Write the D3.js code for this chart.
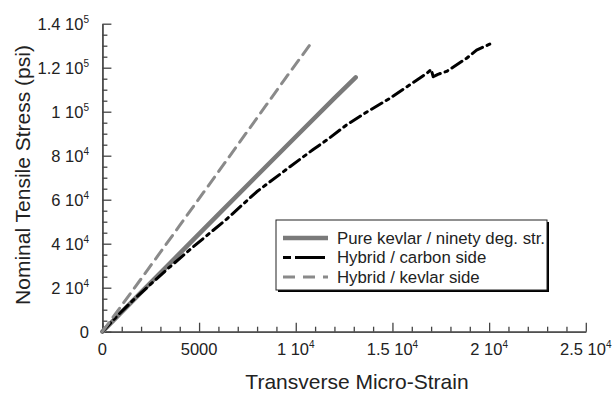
<!DOCTYPE html>
<html><head><meta charset="utf-8">
<script src="https://cdn.jsdelivr.net/npm/d3@7"></script>
<style>body{margin:0;background:#fff}svg{display:block}</style>
</head><body>
<script>
// Data
const pureKevlarX = [0, 2000, 4000, 6000, 8000, 10000, 12000, 13100];
const pureKevlarY = [0, 17900, 35600, 53300, 71000, 88600, 106200, 115600];
const carbonSideX = [0, 800, 1600, 3300, 4700, 6430, 7980, 9700, 10900, 11600, 12630, 13700, 14870, 16770, 17000, 17110, 17350, 17800, 18840, 19350, 20000, 20210];
const carbonSideY = [0, 7500, 14400, 28000, 38600, 51200, 63600, 75000, 82800, 87100, 94000, 100000, 106100, 117400, 119200, 115900, 117000, 118300, 124300, 128000, 130600, 131400];
const kevlarSideX = [0, 2000, 4000, 6000, 8000, 9500, 10850];
const kevlarSideY = [0, 24000, 48300, 72700, 97200, 115600, 131800];
const xTicks = [0, 5000, 10000, 15000, 20000, 25000];
const xTickLabels = [["0",""],["5000",""],["1 10","4"],["1.5 10","4"],["2 10","4"],["2.5 10","4"]];
const yTicks = [0, 20000, 40000, 60000, 80000, 100000, 120000, 140000];
const yTickLabels = [["0",""],["2 10","4"],["4 10","4"],["6 10","4"],["8 10","4"],["1 10","5"],["1.2 10","5"],["1.4 10","5"]];
const seriesNames = ["Pure kevlar / ninety deg. str.", "Hybrid / carbon side", "Hybrid / kevlar side"];

const W = 614, H = 397;
const svg = d3.select("body").append("svg").attr("width", W).attr("height", H)
  .style("font-family", "'Liberation Sans', Arial, sans-serif");

const x = d3.scaleLinear().domain([0, 25000]).range([102.4, 585.8]);
const y = d3.scaleLinear().domain([0, 140000]).range([331.7, 23.7]);
const axisColor = "#444";

// minor ticks
const xMinor = d3.range(0, 25001, 1000).filter(v => v % 5000 !== 0);
const yMinor = d3.range(0, 140001, 5000).filter(v => v % 20000 !== 0);

const gx = svg.append("g").attr("transform", `translate(0,${y(0)})`);
gx.call(d3.axisBottom(x).tickValues(xMinor).tickSize(-5).tickSizeOuter(0).tickFormat(""));
gx.append("g").call(d3.axisBottom(x).tickValues(xTicks).tickSize(-9).tickSizeOuter(0).tickFormat(""));
const gy = svg.append("g").attr("transform", `translate(${x(0)},0)`);
gy.call(d3.axisLeft(y).tickValues(yMinor).tickSize(-5).tickSizeOuter(0).tickFormat(""));
gy.append("g").call(d3.axisLeft(y).tickValues(yTicks).tickSize(-9).tickSizeOuter(0).tickFormat(""));
svg.selectAll(".domain, .tick line").attr("stroke", axisColor).attr("stroke-width", 1.3);

// tick labels
xTicks.forEach((v, i) => {
  const t = svg.append("text").attr("x", x(v)).attr("y", 355).attr("text-anchor", "middle")
    .attr("font-size", 16.5).attr("fill", "#222");
  t.append("tspan").text(xTickLabels[i][0]);
  if (xTickLabels[i][1]) t.append("tspan").attr("dy", -7).attr("font-size", 10).text(xTickLabels[i][1]);
});
yTicks.forEach((v, i) => {
  const t = svg.append("text").attr("x", 89).attr("y", y(v) + 6).attr("text-anchor", "end")
    .attr("font-size", 16.5).attr("fill", "#222");
  t.append("tspan").text(yTickLabels[i][0]);
  if (yTickLabels[i][1]) t.append("tspan").attr("dy", -7).attr("font-size", 10).text(yTickLabels[i][1]);
});

// axis titles
svg.append("text").attr("x", 357).attr("y", 389).attr("text-anchor", "middle")
  .attr("font-size", 21).attr("fill", "#222").text("Transverse Micro-Strain");
svg.append("text").attr("transform", `translate(30,175) rotate(-90)`).attr("text-anchor", "middle")
  .attr("font-size", 21).attr("fill", "#222").text("Nominal Tensile Stress (psi)");

// lines
const line = d3.line().x(d => x(d[0])).y(d => y(d[1]));
const styles = [
  {color: "#7a7a7a", width: 4.5, dash: null},
  {color: "#000", width: 3, dash: "12,5,3,5"},
  {color: "#8a8a8a", width: 3, dash: "11,7"}
];
const series = [
  d3.zip(pureKevlarX, pureKevlarY),
  d3.zip(carbonSideX, carbonSideY),
  d3.zip(kevlarSideX, kevlarSideY)
];
series.forEach((s, i) => {
  svg.append("path").datum(s).attr("d", line).attr("fill", "none")
    .attr("stroke", styles[i].color).attr("stroke-width", styles[i].width)
    .attr("stroke-dasharray", styles[i].dash).attr("stroke-linecap", "round")
    .attr("stroke-linejoin", "round");
});

// legend
const lg = svg.append("g");
lg.append("rect").attr("x", 278).attr("y", 222).attr("width", 271).attr("height", 70).attr("fill", "#000");
lg.append("rect").attr("x", 276).attr("y", 220).attr("width", 271).attr("height", 70)
  .attr("fill", "#fff").attr("stroke", "#222").attr("stroke-width", 1);
seriesNames.forEach((n, i) => {
  const yy = 238 + i * 19.5;
  lg.append("line").attr("x1", 283).attr("x2", 328).attr("y1", yy).attr("y2", yy)
    .attr("stroke", styles[i].color).attr("stroke-width", styles[i].width)
    .attr("stroke-dasharray", i === 1 ? "8,4,30" : (i === 2 ? "12,8" : null));
  lg.append("text").attr("x", 337).attr("y", yy + 5.5).attr("font-size", 16.8).attr("fill", "#222").text(n);
});
</script>
</body></html>
